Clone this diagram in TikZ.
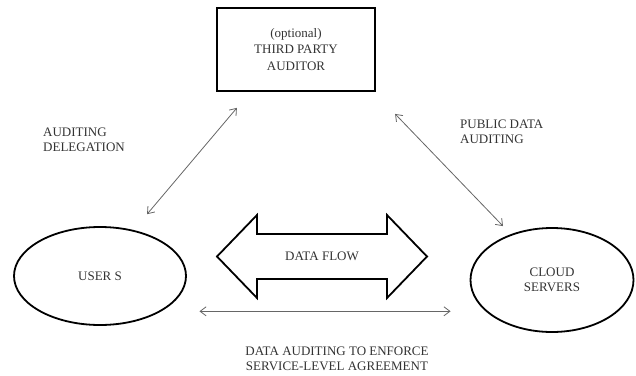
\documentclass[tikz,border=0pt]{standalone}
\usepackage{fontspec}
\setmainfont{Liberation Serif}
\usepackage{tikz}
\usetikzlibrary{shapes.geometric, arrows.meta}
\tikzstyle{labeltext} = [font=\fontsize{13}{15}\selectfont, text=black!80, align=left, inner sep=0pt]
\tikzstyle{link} = [draw=black!60, line width=0.8pt, {Straight Barb[length=6pt,width=9pt]}-{Straight Barb[length=6pt,width=9pt]}]

\begin{document}
\begin{tikzpicture}[x=1pt, y=-1pt]

\tikzstyle{auditornode} = [rectangle, draw, line width=2pt, minimum width=158pt, minimum height=83pt, align=center, font=\fontsize{13}{16.5}\selectfont, text=black!80]
\tikzstyle{partynode} = [ellipse, draw, line width=1.8pt, align=center, font=\fontsize{13}{15}\selectfont, text=black!80]

\useasboundingbox (0,0) rectangle (636,375);

% Nodes
\node (tpa) [auditornode] at (296,49.5) {(optional)\\THIRD PARTY\\AUDITOR};
\node (users) [partynode, minimum width=172pt, minimum height=98pt] at (100,276) {USER S};
\node (cloud) [partynode, minimum width=163pt, minimum height=104pt] at (552,280) {CLOUD\\SERVERS};
\node (flow) [labeltext] at (322,256.5) {DATA FLOW};

% Data flow arrow
\draw [line width=1.8pt, line join=miter]
  ([xshift=-105pt]flow.center) -- ([xshift=-65pt,yshift=-41.5pt]flow.center)
  -- ([xshift=-65pt,yshift=-22.5pt]flow.center) -- ([xshift=65pt,yshift=-22.5pt]flow.center)
  -- ([xshift=65pt,yshift=-41.5pt]flow.center) -- ([xshift=105pt]flow.center)
  -- ([xshift=65pt,yshift=41.5pt]flow.center) -- ([xshift=65pt,yshift=22.5pt]flow.center)
  -- ([xshift=-65pt,yshift=22.5pt]flow.center) -- ([xshift=-65pt,yshift=41.5pt]flow.center)
  -- cycle;

% Arrows
\draw [link, shorten <=20.8pt, shorten >=15.6pt] ([xshift=-45.7pt]tpa.south) -- ([xshift=37pt]users.north);
\draw [link, shorten <=30.4pt, shorten >=1.4pt] ([xshift=-2pt]tpa.south east) -- ([xshift=-48pt]cloud.north);
\draw [link, shorten <=38pt, shorten >=19pt] (users.south east) -- (users.south east -| cloud.west);

% Labels
\node (delegation) [labeltext, anchor=west] at (43,139.5) {AUDITING\\DELEGATION};
\node (public) [labeltext, anchor=west] at (460,131.5) {PUBLIC DATA\\AUDITING};
\node (sla) [labeltext, align=center, font=\fontsize{13}{14.5}\selectfont] at (337,359) {DATA AUDITING TO ENFORCE\\SERVICE-LEVEL AGREEMENT};

\end{tikzpicture}
\end{document}
